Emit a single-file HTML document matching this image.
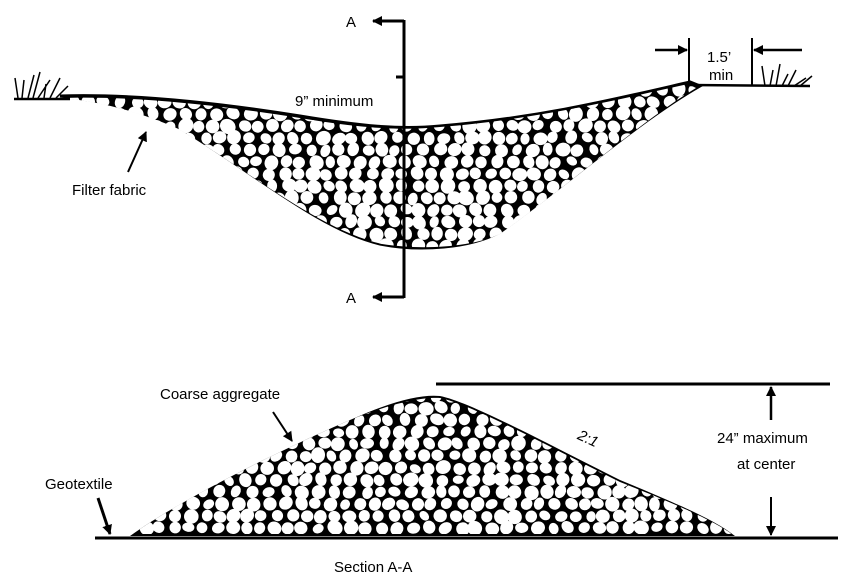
<!DOCTYPE html>
<html><head><meta charset="utf-8"><style>
html,body{margin:0;padding:0;background:#fff;width:848px;height:583px;overflow:hidden}
svg{display:block}
text{font-family:"Liberation Sans",Arial,sans-serif;font-size:15px;fill:#000}
</style></head><body>
<svg id="s" width="848" height="583" viewBox="0 0 848 583">
<defs>
<clipPath id="c1"><path d="M62,98 C120,96 200,102 300,118 C360,128 400,131 440,127 C540,119 620,99 688,84 L696,88 C640,122 560,192 500,234 C470,248 420,250 382,244 C320,230 250,172 180,130 C140,112 100,102 62,98 Z"/></clipPath>
<clipPath id="c2"><path d="M133,534 C180,500 280,450 350,420 C390,404 420,397 440,398 C470,404 540,442 620,482 C680,506 712,520 732,534 Z"/></clipPath>
<marker id="ah" markerWidth="10" markerHeight="10" refX="9" refY="5" orient="auto" markerUnits="userSpaceOnUse"><path d="M0,0 L10,5 L0,10 Z" fill="#000"/></marker>
</defs>
<path d="M60,96 C120,94 200,100 300,116 C360,126 400,130 440,126 C540,118 620,98 690,82 L700,86 C640,120 560,190 500,232 C470,248 420,252 380,244 C320,230 250,170 180,128 C140,110 100,100 60,96 Z" fill="#000" stroke="#000" stroke-width="3"/>
<g id="g1" clip-path="url(#c1)"></g>
<path d="M130,536 C180,500 280,450 350,420 C390,402 420,394 440,396 C470,402 540,440 620,480 C680,505 715,520 735,536 Z" fill="#000"/>
<g id="g2" clip-path="url(#c2)"></g>
<line x1="14" y1="99" x2="70" y2="99" stroke="#000" stroke-width="2.5"/>
<line x1="690" y1="85" x2="810" y2="86" stroke="#000" stroke-width="2.5"/>
<g stroke="#000" stroke-width="1.5" fill="none">
<path d="M18,98 L15,78 M22,98 L24,80 M28,98 L34,75 M33,98 L40,72 M38,98 L50,80 M44,98 L46,84 M50,98 L60,78 M56,98 L68,86"/>
<path d="M765,86 L762,66 M770,86 L773,70 M776,86 L780,64 M782,86 L788,74 M788,86 L796,70 M794,86 L806,78 M800,86 L812,76"/>
</g>
<line x1="404" y1="20" x2="404" y2="298" stroke="#000" stroke-width="3"/>
<line x1="404" y1="21" x2="373" y2="21" stroke="#000" stroke-width="3" marker-end="url(#ah)"/>
<line x1="404" y1="297" x2="373" y2="297" stroke="#000" stroke-width="3" marker-end="url(#ah)"/>
<line x1="396" y1="77" x2="404" y2="77" stroke="#000" stroke-width="3"/>
<text x="346" y="27">A</text>
<text x="346" y="303">A</text>
<text x="295" y="106">9” minimum</text>
<line x1="689" y1="38" x2="689" y2="86" stroke="#000" stroke-width="2"/>
<line x1="752" y1="38" x2="752" y2="86" stroke="#000" stroke-width="2"/>
<line x1="655" y1="50" x2="687" y2="50" stroke="#000" stroke-width="2.5" marker-end="url(#ah)"/>
<line x1="802" y1="50" x2="754" y2="50" stroke="#000" stroke-width="2.5" marker-end="url(#ah)"/>
<text x="707" y="62">1.5’</text>
<text x="709" y="80">min</text>
<text x="72" y="195">Filter fabric</text>
<line x1="128" y1="172" x2="146" y2="132" stroke="#000" stroke-width="2" marker-end="url(#ah)"/>
<line x1="95" y1="538" x2="838" y2="538" stroke="#000" stroke-width="3"/>
<line x1="436" y1="384" x2="830" y2="384" stroke="#000" stroke-width="3"/>
<line x1="771" y1="420" x2="771" y2="387" stroke="#000" stroke-width="2.5" marker-end="url(#ah)"/>
<line x1="771" y1="497" x2="771" y2="535" stroke="#000" stroke-width="2" marker-end="url(#ah)"/>
<text x="717" y="443">24” maximum</text>
<text x="737" y="469">at center</text>
<text x="578" y="442" transform="rotate(25 585 437)" font-style="italic">2:1</text>
<text x="160" y="399">Coarse aggregate</text>
<line x1="273" y1="412" x2="292" y2="441" stroke="#000" stroke-width="2" marker-end="url(#ah)"/>
<text x="45" y="489">Geotextile</text>
<line x1="98" y1="498" x2="110" y2="534" stroke="#000" stroke-width="3" marker-end="url(#ah)"/>
<text x="334" y="572">Section A-A</text>
</svg>
<script>
var seed=11;function r(){seed=(seed*16807)%2147483647;return seed/2147483647;}
function fill(id,x0,y0,x1,y1,st){var g=document.getElementById(id),h='';
for(var y=y0;y<y1;y+=st*0.8){for(var x=x0+(r()*st*0.5);x<x1;x+=st*(0.85+r()*0.3)){var rx=st*0.36+r()*st*0.12,ry=rx*(0.75+r()*0.4);
var cx=x+(r()-.5)*2,cy=y+(r()-.5)*2;
h+='<ellipse cx="'+cx.toFixed(1)+'" cy="'+cy.toFixed(1)+'" rx="'+rx.toFixed(1)+'" ry="'+ry.toFixed(1)+'" transform="rotate('+(r()*180|0)+' '+cx.toFixed(1)+' '+cy.toFixed(1)+')" fill="#fff"/>';}}
g.innerHTML=h;}
fill('g1',55,90,705,250,15);
fill('g2',125,396,740,534,15);
</script>
</body></html>
